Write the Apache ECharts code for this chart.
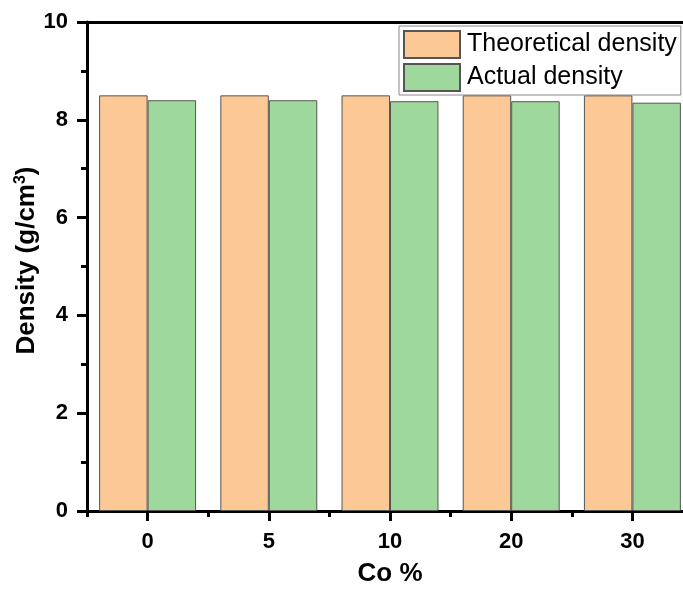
<!DOCTYPE html>
<html>
<head>
<meta charset="utf-8">
<script src="https://cdn.jsdelivr.net/npm/echarts@6/dist/echarts.min.js"></script>
<style>
  html, body { margin: 0; padding: 0; background: #fff; }
  #chart { width: 683px; height: 589px; }
</style>
</head>
<body>
<div id="chart"></div>
<script>
// data
const categories = ['0', '5', '10', '20', '30'];
const theoreticalDensity = [8.50, 8.50, 8.50, 8.50, 8.50];
const actualDensity = [8.40, 8.40, 8.38, 8.38, 8.35];
const yTicks = { min: 0, max: 10, interval: 2 };

const font = 'Arial, "Liberation Sans", sans-serif';
const chart = echarts.init(document.getElementById('chart'));

const barStyle = (color) => ({ color: color, borderColor: '#555', borderWidth: 1 });

const option = {
  animation: false,
  grid: { left: 87, top: 22, bottom: 78, right: -10, containLabel: false, outerBoundsMode: 'none' },
  legend: {
    orient: 'vertical',
    left: 399,
    top: 26,
    padding: [4, 4, 3, 4],
    itemWidth: 56,
    itemHeight: 27,
    itemGap: 4,
    backgroundColor: '#fff',
    borderColor: '#888',
    borderWidth: 1,
    borderRadius: 0,
    icon: 'rect',
    textStyle: { fontFamily: font, fontSize: 25, color: '#000', padding: [0, 0, 0, 2] },
    data: ['Theoretical density', 'Actual density']
  },
  xAxis: [
    {
      type: 'category',
      data: categories,
      position: 'bottom',
      name: 'Co %',
      nameLocation: 'middle',
      nameGap: 50,
      nameMoveOverlap: false,
      nameTextStyle: { fontFamily: font, fontSize: 26, fontWeight: 'bold', color: '#000' },
      axisLine: { lineStyle: { color: '#000', width: 3 } },
      axisTick: { show: true, alignWithLabel: true, length: 10, lineStyle: { color: '#000', width: 3 } },
      axisLabel: { margin: 20, fontFamily: font, fontSize: 22, fontWeight: 'bold', color: '#000' }
    },
    {
      // boundary (minor) ticks between categories
      type: 'category',
      data: categories,
      position: 'bottom',
      axisLine: { show: false },
      axisTick: { show: true, alignWithLabel: false, length: 6, lineStyle: { color: '#000', width: 3 } },
      axisLabel: { show: false }
    },
    {
      // top frame line
      type: 'category',
      data: categories,
      position: 'top',
      axisLine: { lineStyle: { color: '#000', width: 3 } },
      axisTick: { show: false },
      axisLabel: { show: false }
    }
  ],
  yAxis: {
    type: 'value',
    min: yTicks.min,
    max: yTicks.max,
    interval: yTicks.interval,
    name: 'Density (g/cm{sup|3})',
    nameLocation: 'middle',
    nameGap: 46,
    nameMoveOverlap: false,
    nameRotate: 90,
    nameTextStyle: {
      fontFamily: font, fontSize: 26, fontWeight: 'bold', color: '#000',
      padding: [0, 0, 0, 12],
      rich: {
        sup: { fontFamily: font, fontSize: 16, fontWeight: 'bold', color: '#000', verticalAlign: 'bottom', padding: [0, 0, 12, 0] }
      }
    },
    axisLine: { show: true, lineStyle: { color: '#000', width: 3 } },
    axisTick: { show: true, length: 10, lineStyle: { color: '#000', width: 3 } },
    minorTick: { show: true, splitNumber: 2, length: 6, lineStyle: { color: '#000', width: 3 } },
    splitLine: { show: false },
    axisLabel: { margin: 19, fontFamily: font, fontSize: 22, fontWeight: 'bold', color: '#000' }
  },
  series: [
    {
      name: 'Theoretical density',
      type: 'bar',
      data: theoreticalDensity,
      barGap: '0%',
      barCategoryGap: '20%',
      itemStyle: barStyle('#fcc896')
    },
    {
      name: 'Actual density',
      type: 'bar',
      data: actualDensity,
      barGap: '0%',
      barCategoryGap: '20%',
      itemStyle: barStyle('#9fd89c')
    }
  ]
};

chart.setOption(option);
</script>
</body>
</html>
